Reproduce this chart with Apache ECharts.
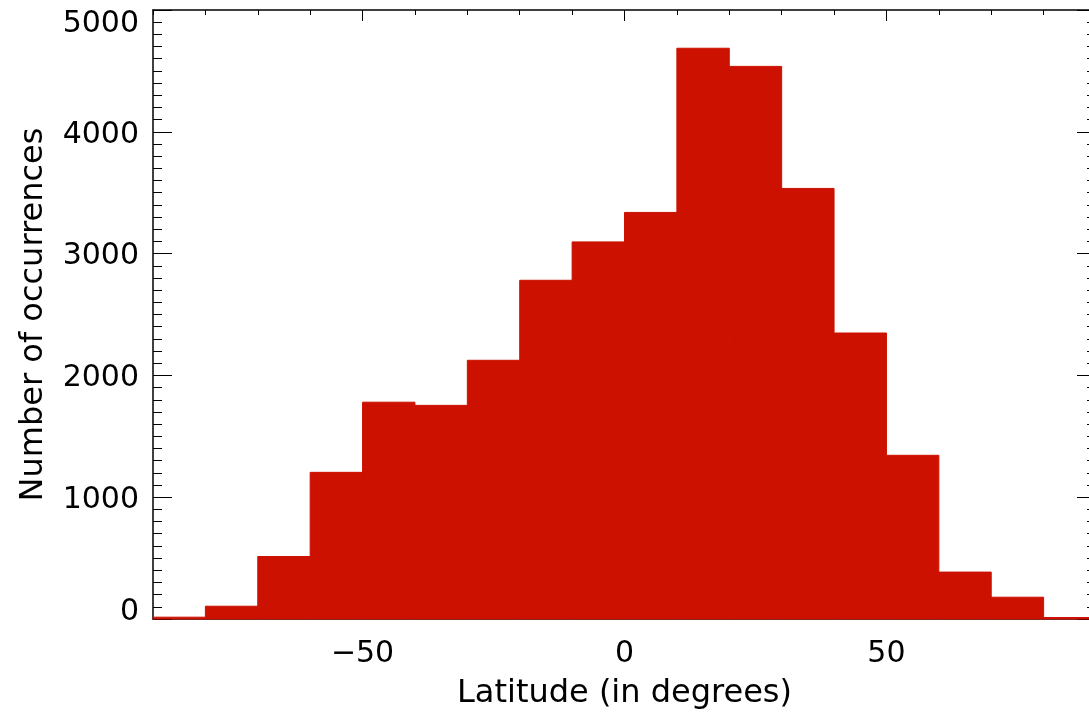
<!DOCTYPE html>
<html>
<head>
<meta charset="utf-8">
<title>Latitude histogram</title>
<script src="https://cdn.jsdelivr.net/npm/echarts@6/dist/echarts.min.js"></script>
<style>
	html, body { margin: 0; padding: 0; background: #fff; }
	#chart { width: 1089px; height: 712px; }
</style>
</head>
<body>
<div id="chart"></div>
<script>
// histogram bins (degrees) and counts
var binLow  = [-90, -80, -70, -60, -50, -40, -30, -20, -10, 0, 10, 20, 30, 40, 50, 60, 70, 80];
var binHigh = [-80, -70, -60, -50, -40, -30, -20, -10, 0, 10, 20, 30, 40, 50, 60, 70, 80, 90];
var counts  = [15, 105, 513, 1204, 1780, 1754, 2124, 2781, 3096, 3338, 4686, 4537, 3535, 2348, 1344, 385, 179, 12];
var xLabels = [-50, 0, 50];
var yTicks  = [0, 1000, 2000, 3000, 4000, 5000];

var FONT = 'DejaVu Sans';
var BAR = '#cc1100';

var data = [];
for (var i = 0; i < counts.length; i++) {
	data.push([binLow[i], binHigh[i], counts[i]]);
}

function txt(extra) {
	var s = { color: '#000', fontFamily: FONT, fontSize: 30 };
	for (var k in extra) s[k] = extra[k];
	return s;
}

var chart = echarts.init(document.getElementById('chart'), null, { renderer: 'canvas' });

var option = {
	animation: false,
	grid: { left: 153, right: -7, top: 10, bottom: 93, outerBoundsMode: 'none', containLabel: false },
	xAxis: [
		{
			type: 'value',
			position: 'bottom',
			min: -90,
			max: 90,
			interval: 10,
			axisLine: { onZero: false, lineStyle: { color: '#000', width: 1.5 } },
			axisTick: { show: false },
			splitLine: { show: false },
			axisLabel: txt({
				margin: 20,
				formatter: function (v) {
					if (xLabels.indexOf(v) < 0) return '';
					return v < 0 ? '\u2212' + Math.abs(v) : String(v);
				}
			}),
			name: 'Latitude (in degrees)',
			nameLocation: 'middle',
			nameGap: 59,
			nameTextStyle: txt({ fontSize: 32 })
		},
		{
			type: 'value',
			position: 'top',
			min: -90,
			max: 90,
			interval: 10,
			axisLine: { onZero: false, lineStyle: { color: '#000', width: 1.5 } },
			axisTick: { inside: true, length: 5, lineStyle: { color: '#000', width: 1 } },
			axisLabel: { show: false },
			splitLine: { show: false }
		},
		{
			type: 'value',
			position: 'top',
			min: -90,
			max: 90,
			axisLine: { show: false, onZero: false },
			axisTick: { inside: true, length: 11, customValues: xLabels, lineStyle: { color: '#000', width: 1 } },
			axisLabel: { show: false },
			splitLine: { show: false }
		}
	],
	yAxis: [
		{
			type: 'value',
			position: 'left',
			min: 0,
			max: 5000,
			interval: 1000,
			axisLine: { show: true, onZero: false, lineStyle: { color: '#000', width: 1.5 } },
			axisTick: { show: true, inside: true, length: 19, lineStyle: { color: '#000', width: 1 } },
			minorTick: { show: true, splitNumber: 10, length: 9, lineStyle: { color: '#000', width: 1 } },
			splitLine: { show: false },
			axisLabel: txt({
				margin: 14,
				formatter: function (v) {
					if (v === yTicks[0]) return '{lo|' + v + '}';
					if (v === yTicks[yTicks.length - 1]) return '{hi|' + v + '}';
					return '{n|' + v + '}';
				},
				rich: {
					n: txt({ padding: [6, 0, 0, 0] }),
					lo: txt({ padding: [0, 0, 14, 0] }),
					hi: txt({ padding: [28, 0, 0, 0] })
				}
			}),
			name: 'Number of occurrences',
			nameLocation: 'middle',
			nameGap: 103,
			nameRotate: 90,
			nameTextStyle: txt({ fontSize: 32 })
		},
		{
			type: 'value',
			position: 'right',
			min: 0,
			max: 5000,
			interval: 1000,
			axisLine: { show: true, onZero: false, lineStyle: { color: '#000', width: 1.5 } },
			axisTick: { show: true, inside: true, length: 19, lineStyle: { color: '#000', width: 1 } },
			minorTick: { show: true, splitNumber: 10, length: 9, lineStyle: { color: '#000', width: 1 } },
			splitLine: { show: false },
			axisLabel: { show: false }
		}
	],
	series: [
		{
			type: 'custom',
			xAxisIndex: 0,
			yAxisIndex: 0,
			data: data,
			encode: { x: [0, 1], y: 2 },
			renderItem: function (params, api) {
				var topLeft = api.coord([api.value(0), api.value(2)]);
				var bottomRight = api.coord([api.value(1), 0]);
				return {
					type: 'rect',
					shape: {
						x: topLeft[0],
						y: topLeft[1],
						width: bottomRight[0] - topLeft[0],
						height: bottomRight[1] - topLeft[1]
					},
					style: { fill: BAR, stroke: BAR, lineWidth: 1 }
				};
			}
		}
	]
};

chart.setOption(option);
</script>
</body>
</html>
